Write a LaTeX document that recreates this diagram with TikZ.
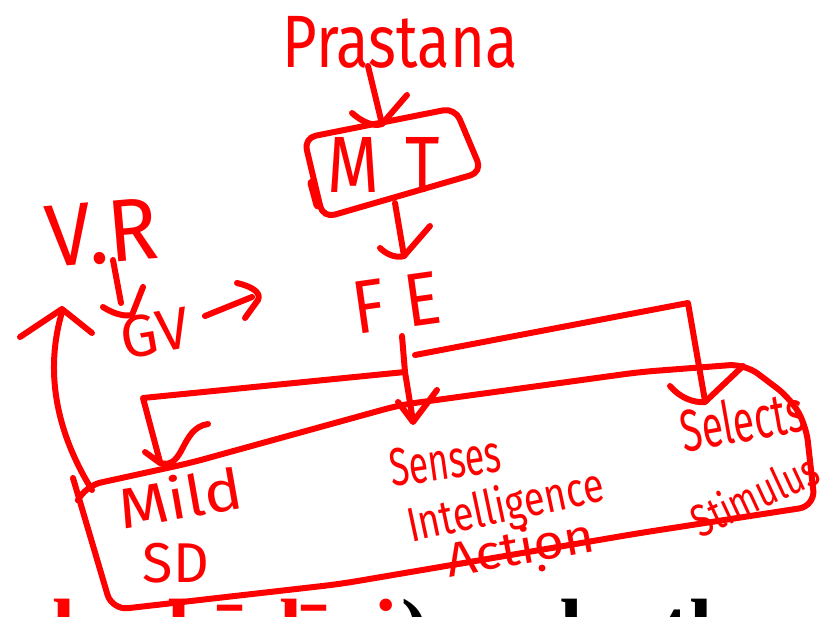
\documentclass[tikz,border=0pt]{standalone}
\usepackage{fontspec}
\usepackage{graphicx}
\setmainfont{Fira Sans}
\newfontfamily\bottomfont{Liberation Serif}
\tikzset{
  pen/.style={draw=red, line width=6bp, line cap=round, line join=round},
  hw/.style={text=red, inner sep=0pt},
  bot/.style={anchor=base west, inner sep=0pt, font=\bottomfont\bfseries\fontsize{83}{83}\selectfont},
}
\newcommand{\hwtxt}[3]{\resizebox*{#1bp}{#2bp}{\fontseries{m}\selectfont #3}}
\begin{document}
\begin{tikzpicture}[x=1bp,y=-1bp]
\useasboundingbox (0,0) rectangle (833,617);
\begin{scope}
\clip (0,0) rectangle (833,617);

% ---- texts ----
\node[hw] (prast) at (400,42) {\hwtxt{235}{52}{Prastana}};
\node[hw] (mt) at (384,165) {\hwtxt{113}{55}{M\hspace{0.4em}T}};
\node[hw, rotate=8] (fe) at (396,303) {\hwtxt{88}{52}{F\hspace{0.3em}E}};
\node[hw, rotate=5] (vr) at (102,233) {\hwtxt{112}{62}{V.R}};
\node[hw, rotate=10] (gv) at (155,333) {\hwtxt{70}{42}{GV}};
\node[hw, rotate=10] (mild) at (180,497) {\hwtxt{125}{45}{Mild}};
\node[hw] (sd) at (176,563) {\hwtxt{66}{40}{SD}};
\node[hw, rotate=8] (senses) at (445,461) {\hwtxt{112}{38}{Senses}};
\node[hw, rotate=12] (intel) at (506,508) {\hwtxt{200}{48}{Intelligence}};
\node[hw, rotate=10] (action) at (520,546) {\hwtxt{150}{38}{Action}};
\node[hw, rotate=10] (selects) at (742,420) {\hwtxt{125}{45}{Selects}};
\node[hw, rotate=25] (stim) at (754,494) {\hwtxt{135}{36}{Stimulus}};

% ---- MT box ----
\draw[pen, rounded corners=12] (304,138) -- (455,108) -- (482,172) -- (323,218) -- cycle;
\draw[pen, line width=9bp] (312,183) -- (318,205);

% ---- Prastana -> MT ----
\coordinate (a1s) at (368,66);
\coordinate (a1e) at (382,124);
\draw[pen] (a1s) -- (a1e);
\draw[pen] (352,113) .. controls (362,122) and (374,127) .. (a1e) -- (407,95);

% ---- MT -> FE ----
\coordinate (a2s) at (395,203);
\coordinate (a2e) at (404,256);
\draw[pen] (a2s) -- (a2e);
\draw[pen] (380,248) .. controls (388,256) and (398,258) .. (a2e) -- (430,226);

% ---- FE branches ----
\coordinate (j) at (405,372);
\coordinate (jr) at (415,355);
\draw[pen] (402,336) -- (j) -- (413,421);
\draw[pen] (398,402) -- (413,422) -- (437,390);
\draw[pen] (j) -- (143,398) -- (160,462);
\draw[pen] (145,452) -- (160,463) .. controls (185,470) and (180,428) .. (208,424);
\draw[pen] (jr) -- (688,303) -- (705,401);
\draw[pen] (670,386) .. controls (680,398) and (694,403) .. (705,402) -- (743,366);

% ---- big box ----
\draw[pen, rounded corners=16] (73,478) -- (112,610) -- (340,584) -- (640,533) -- (815,506) -- (806,425) -- (790,398) -- (745,364) -- (640,372) -- (400,405) -- (190,463) -- (85,486) -- (80,496);

% ---- feedback arrow ----
\draw[pen] (92,490) .. controls (55,430) and (45,370) .. (62,312);
\draw[pen] (20,337) -- (62,309) -- (92,333);

% ---- V.R -> GV ----
\draw[pen] (113,260) -- (121,303);
\draw[pen] (103,307) .. controls (112,313) and (124,317) .. (132,315) -- (143,287);

% ---- GV -> ----
\draw[pen] (205,316) -- (252,297);
\draw[pen] (237,283) .. controls (250,286) and (262,292) .. (258,300) -- (245,318);

% dot under Action
\fill[red] (542,568) circle (3.5);

% ---- clipped document text at bottom ----
\node[bot, text=red] (b1) at (52,656) {l};
\node[bot, text=red] (b2) at (167,656) {l};
\node[bot, text=red] (b3) at (218,656) {ī};
\node[bot, text=red] (b4) at (279,656) {lī};
\node[bot, text=red] (b5) at (374,656) {i};
\node[bot, text=black] (b6) at (401,656) {)};
\node[bot, text=black] (b7) at (536,656) {d};
\node[bot, text=black] (b8) at (662,656) {th};
\end{scope}
\end{tikzpicture}
\end{document}
